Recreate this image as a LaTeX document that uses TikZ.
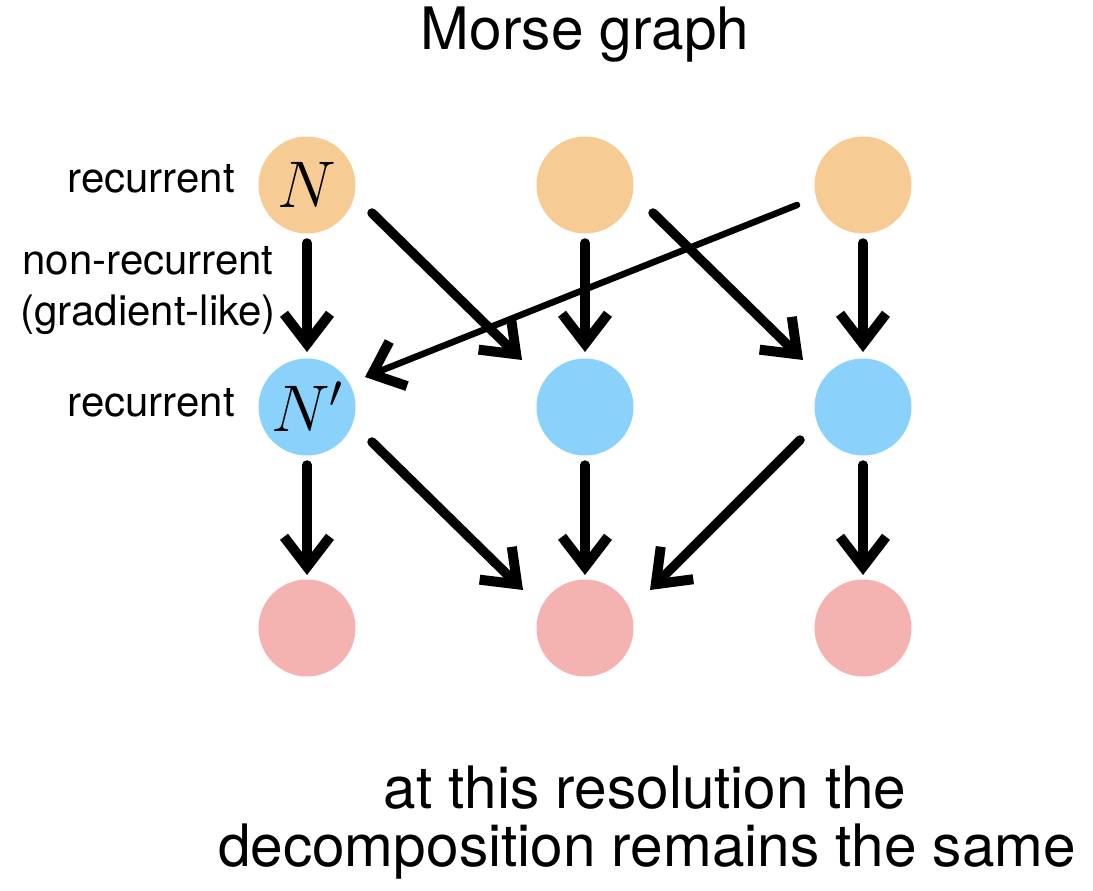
\documentclass[tikz,border=0pt]{standalone}
\usepackage{fix-cm}
\usepackage{fontspec}
\setmainfont{TeX Gyre Heros}
\usetikzlibrary{arrows.meta}
\definecolor{morange}{HTML}{F7CB94}
\definecolor{mblue}{HTML}{8AD2FB}
\definecolor{mpink}{HTML}{F4B3B0}
\begin{document}
\begin{tikzpicture}[x=1pt,y=-1pt,
  dot/.style={circle,minimum size=97pt,inner sep=0pt,draw=none},
  arr/.style={line width=9.5pt,line cap=round,-{Straight Barb[length=30pt,width=46pt,line width=10pt]}},
  thinarr/.style={line width=6.5pt,line cap=round,-{Straight Barb[length=28pt,width=48pt,line width=10pt]}},
  bigtxt/.style={font=\fontsize{58.5}{66}\selectfont,inner sep=0pt},
  lbl/.style={font=\fontsize{42}{50}\selectfont,inner sep=0pt},
  mathlbl/.style={font=\fontsize{66}{70}\selectfont}]
\useasboundingbox (0,0) rectangle (1093,891);
% title
\node[bigtxt,anchor=base] (title) at (585,50) {Morse graph};
% nodes
\node[dot,fill=morange,mathlbl] (t1) at (307,185) {$N$};
\node[dot,fill=morange] (t2) at (585,185) {};
\node[dot,fill=morange] (t3) at (863,185) {};
\node[dot,fill=mblue,mathlbl] (m1) at (307,407) {$N'$};
\node[dot,fill=mblue] (m2) at (585,407) {};
\node[dot,fill=mblue] (m3) at (863,407) {};
\node[dot,fill=mpink] (b1) at (307,628) {};
\node[dot,fill=mpink] (b2) at (585,628) {};
\node[dot,fill=mpink] (b3) at (863,628) {};
% labels
\node[lbl,anchor=base east] (l1) at (235,192) {recurrent};
\node[lbl,anchor=base] (l2) at (148,274) {non-recurrent};
\node[lbl,anchor=base] (l3) at (148,325) {(gradient-like)};
\node[lbl,anchor=base east] (l4) at (235,416) {recurrent};
% vertical arrows
\foreach \a/\b in {t1/m1,t2/m2,t3/m3}
  \draw[arr] ([yshift=-58pt]\a.center) -- ([yshift=55pt]\b.center);
\foreach \a/\b in {m1/b1,m2/b2,m3/b3}
  \draw[arr] ([yshift=-58pt]\a.center) -- ([yshift=53pt]\b.center);
% diagonal arrows
\draw[arr] ([shift={(65,28)}]t1.center) -- ([shift={(-63,-47)}]m2.center);
\draw[arr] ([shift={(68,28)}]t2.center) -- ([shift={(-60,-47)}]m3.center);
\draw[thinarr] ([shift={(-66,20)}]t3.center) -- ([shift={(58,-30)}]m1.center);
\draw[arr] ([shift={(65,35)}]m1.center) -- ([shift={(-62,-38)}]b2.center);
\draw[arr] ([shift={(-63,33)}]m3.center) -- ([shift={(65,-38)}]b2.center);
% bottom text
\node[bigtxt,anchor=base] (c1) at (645,808) {at this resolution the};
\node[bigtxt,anchor=base] (c2) at (647,866) {decomposition remains the same};
\end{tikzpicture}
\end{document}
